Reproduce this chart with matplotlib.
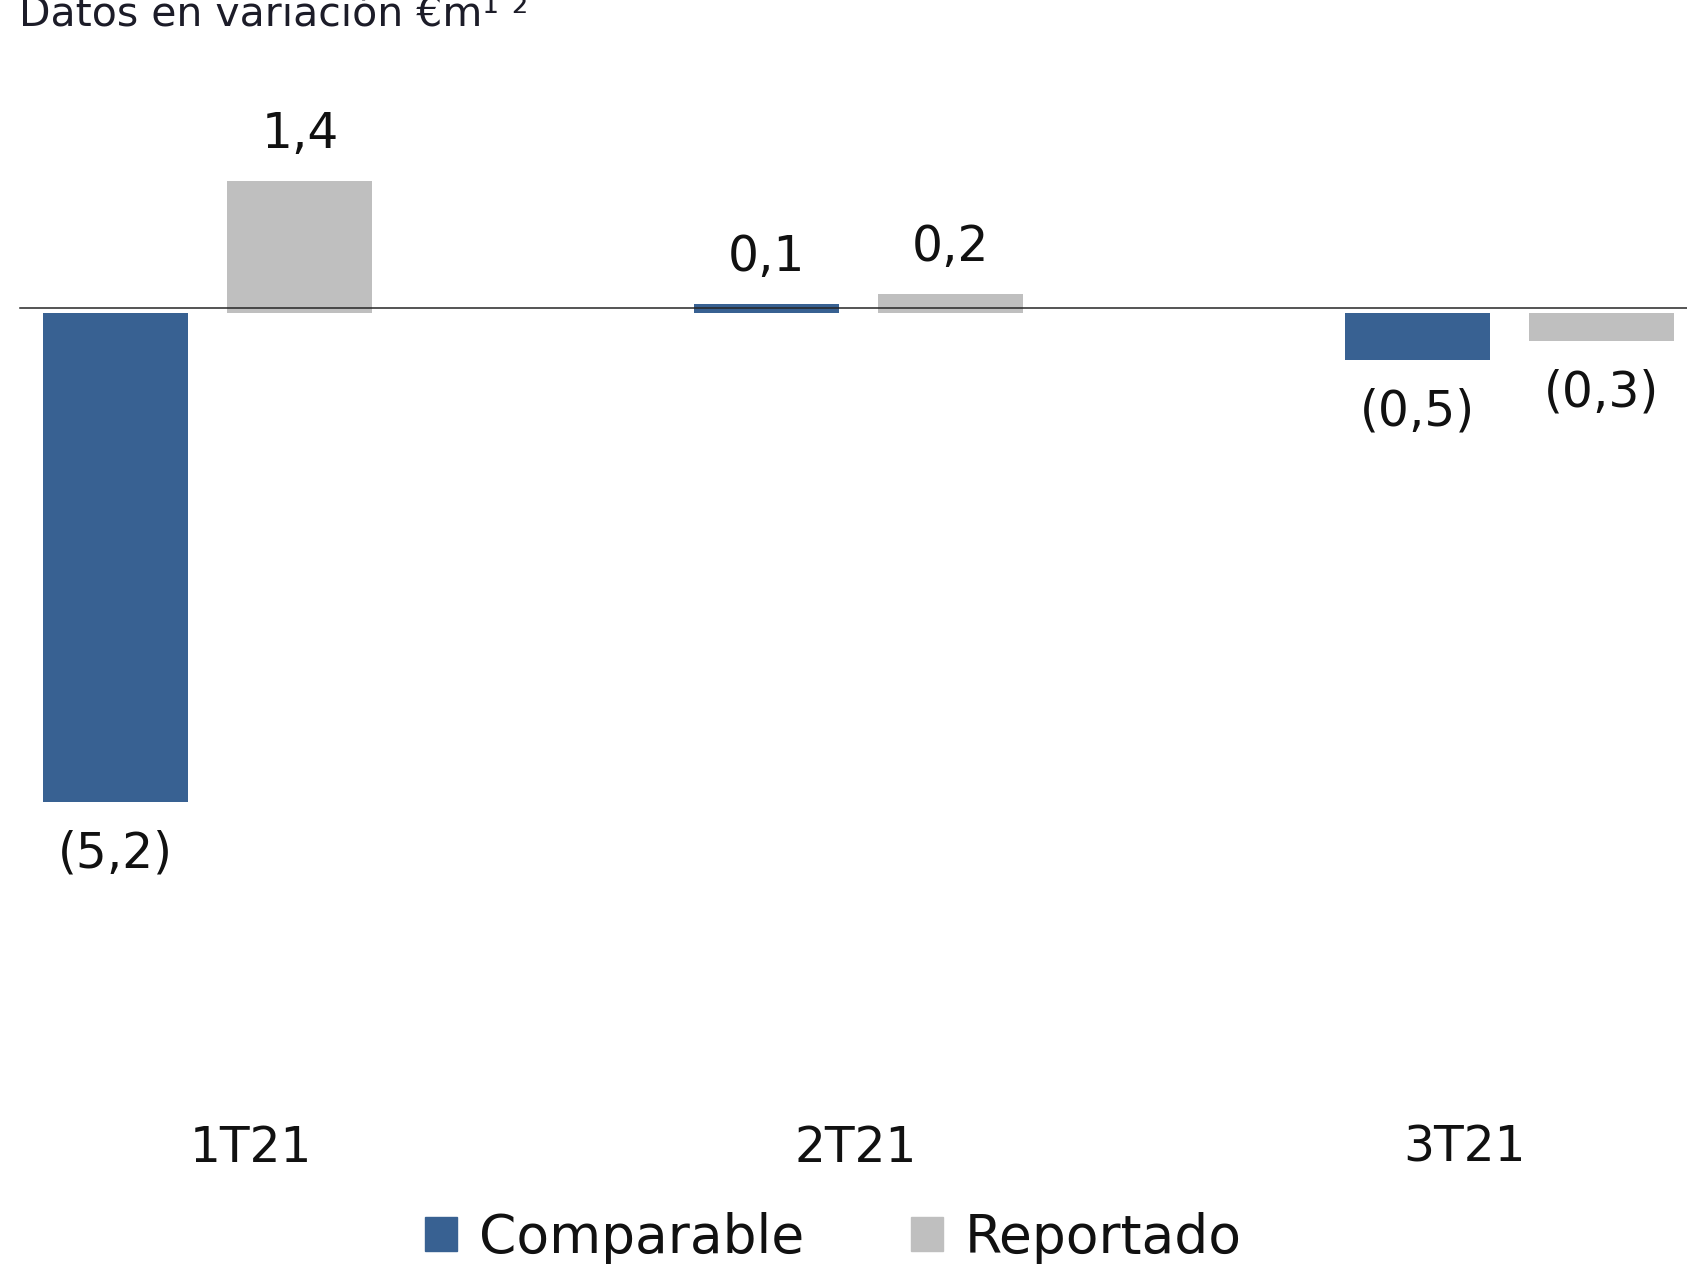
import matplotlib
matplotlib.use("Agg")
import matplotlib.pyplot as plt
from matplotlib.patches import Patch
import numpy as np

# Data
categories = ["1T21", "2T21", "3T21"]
comparable = [-5.2, 0.1, -0.5]
reportado = [1.4, 0.2, -0.3]
series_names = ["Comparable", "Reportado"]
title = "Datos en variación €m¹ ²"

BLUE = "#386192"
GRAY = "#BFBFBF"
TEXT = "#111111"
FS_VAL = 35
FS_CAT = 35
FS_LEG = 38.5
FS_TITLE = 29.5

plt.rcParams["font.family"] = ["DejaVu Sans"]


def fmt(v):
    s = f"{abs(v):.1f}".replace(".", ",")
    return f"({s})" if v < 0 else s


fig = plt.figure(figsize=(16.87, 12.66), dpi=100)
ax = fig.add_axes([0, 0, 1, 1])
ax.set_xlim(-0.3187, 2.2727)
ax.set_ylim(-10.14, 3.33)
ax.axis("off")

x = np.arange(len(categories))
width = 0.2227
offset = 0.142

ax.bar(x - offset, comparable, width, color=BLUE, zorder=2)
ax.bar(x + offset, reportado, width, color=GRAY, zorder=2)

# zero line
ax.plot([-0.288, 2.2727], [0.056, 0.056], color="#262626", lw=1.1, zorder=3)

# value labels
for xs, vals in ((x - offset, comparable), (x + offset, reportado)):
    for xi, v in zip(xs, vals):
        y = v + 0.5 if v >= 0 else v - 0.55
        ax.text(xi, y, fmt(v), ha="center", va="center", fontsize=FS_VAL, color=TEXT)

# category labels
label_pos = x + np.array([0.067, -0.004, -0.069])
for xp, c in zip(label_pos, categories):
    ax.text(xp, -9.03, c, ha="center", va="baseline", fontsize=FS_CAT, color=TEXT)

# title
fig.text(19 / 1687, 1 - 26 / 1266, title, ha="left", va="baseline",
         fontsize=FS_TITLE, color="#1c1c28")

handles = [Patch(color=BLUE), Patch(color=GRAY)]
fig.legend(handles, series_names, loc="center", bbox_to_anchor=(0.494, 0.0225),
           ncol=2, frameon=False, fontsize=FS_LEG, handlelength=0.6,
           handleheight=0.6, handletextpad=0.4, columnspacing=2.0,
           borderpad=0, labelcolor=TEXT)

fig.savefig("out.png", dpi=100)
